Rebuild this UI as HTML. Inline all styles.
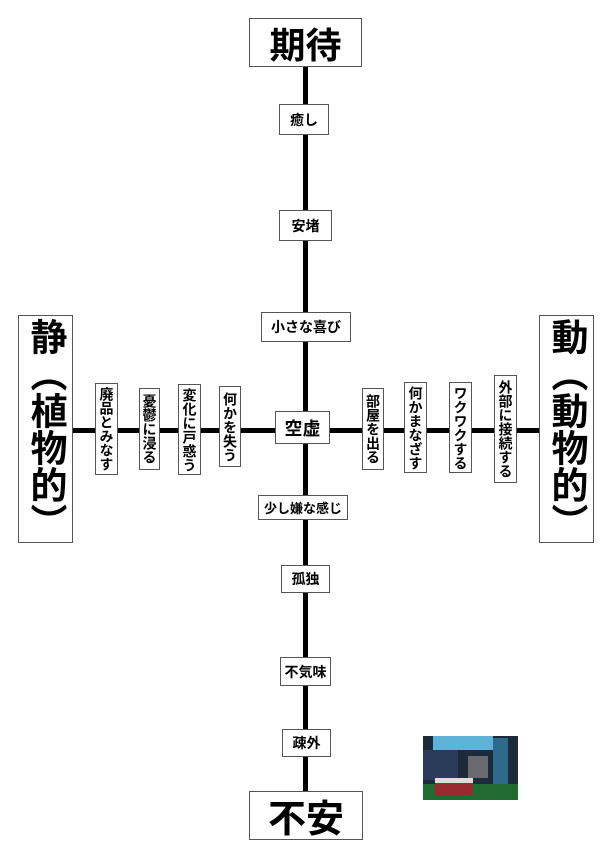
<!DOCTYPE html>
<html><head><meta charset="utf-8"><style>
body{margin:0;width:613px;height:859px;background:#fff;position:relative;overflow:hidden;font-family:"Liberation Sans","Noto Sans CJK JP",sans-serif;font-weight:bold;color:#000}
.b{position:absolute;box-sizing:border-box;border:1.5px solid #555;background:#fff;display:flex;align-items:center;justify-content:center;white-space:nowrap}
.v{writing-mode:vertical-rl;font-size:14px;line-height:1}
.h{font-size:14px}
.line{position:absolute;background:#000}
</style></head><body>
<div class="line" style="left:303px;top:60px;width:5px;height:740px"></div>
<div class="line" style="left:70px;top:428px;width:475px;height:5px"></div>

<div class="b" style="left:249px;top:18px;width:113px;height:49px;font-size:36px">期待</div>
<div class="b h" style="left:279px;top:104px;width:50px;height:31px">癒し</div>
<div class="b h" style="left:279px;top:210px;width:53px;height:31px">安堵</div>
<div class="b h" style="left:261px;top:312px;width:90px;height:30px">小さな喜び</div>
<div class="b" style="left:275px;top:411px;width:55px;height:33px;font-size:18px">空虚</div>
<div class="b h" style="left:258px;top:495px;width:90px;height:25px;font-size:13px">少し嫌な感じ</div>
<div class="b h" style="left:281px;top:565px;width:49px;height:28px">孤独</div>
<div class="b h" style="left:280px;top:657px;width:51px;height:29px">不気味</div>
<div class="b h" style="left:282px;top:729px;width:49px;height:28px">疎外</div>
<div class="b" style="left:249px;top:791px;width:114px;height:49px;font-size:38px">不安</div>

<div class="b" style="left:18px;top:315px;width:55px;height:228px;writing-mode:vertical-rl;font-size:37px;line-height:1">静︵植物的︶</div>
<div class="b" style="left:539px;top:315px;width:55px;height:228px;writing-mode:vertical-rl;font-size:37px;line-height:1">動︵動物的︶</div>

<div class="b v" style="left:95px;top:383px;width:23px;height:92px">廃品とみなす</div>
<div class="b v" style="left:139px;top:388px;width:21px;height:82px">憂鬱に浸る</div>
<div class="b v" style="left:178px;top:384px;width:23px;height:91px">変化に戸惑う</div>
<div class="b v" style="left:219px;top:386px;width:22px;height:81px">何かを失う</div>
<div class="b v" style="left:362px;top:388px;width:22px;height:82px">部屋を出る</div>
<div class="b v" style="left:404px;top:382px;width:23px;height:91px">何かまなざす</div>
<div class="b v" style="left:449px;top:382px;width:23px;height:91px">ワクワクする</div>
<div class="b v" style="left:494px;top:375px;width:23px;height:108px">外部に接続する</div>

<svg style="position:absolute;left:423px;top:736px" width="95" height="64" viewBox="0 0 95 64">
<rect width="95" height="64" fill="#1c2a3a"/>
<rect x="10" y="0" width="60" height="14" fill="#5fb3d8"/>
<rect x="0" y="14" width="35" height="30" fill="#2a3c5a"/>
<rect x="70" y="2" width="15" height="50" fill="#2e6a8a"/>
<rect x="0" y="48" width="95" height="16" fill="#1f6b30"/>
<rect x="12" y="44" width="38" height="16" fill="#9a2a30"/>
<rect x="12" y="42" width="38" height="5" fill="#ddd"/>
<rect x="45" y="20" width="20" height="22" fill="#6a6a70"/>
</svg>
</body></html>
